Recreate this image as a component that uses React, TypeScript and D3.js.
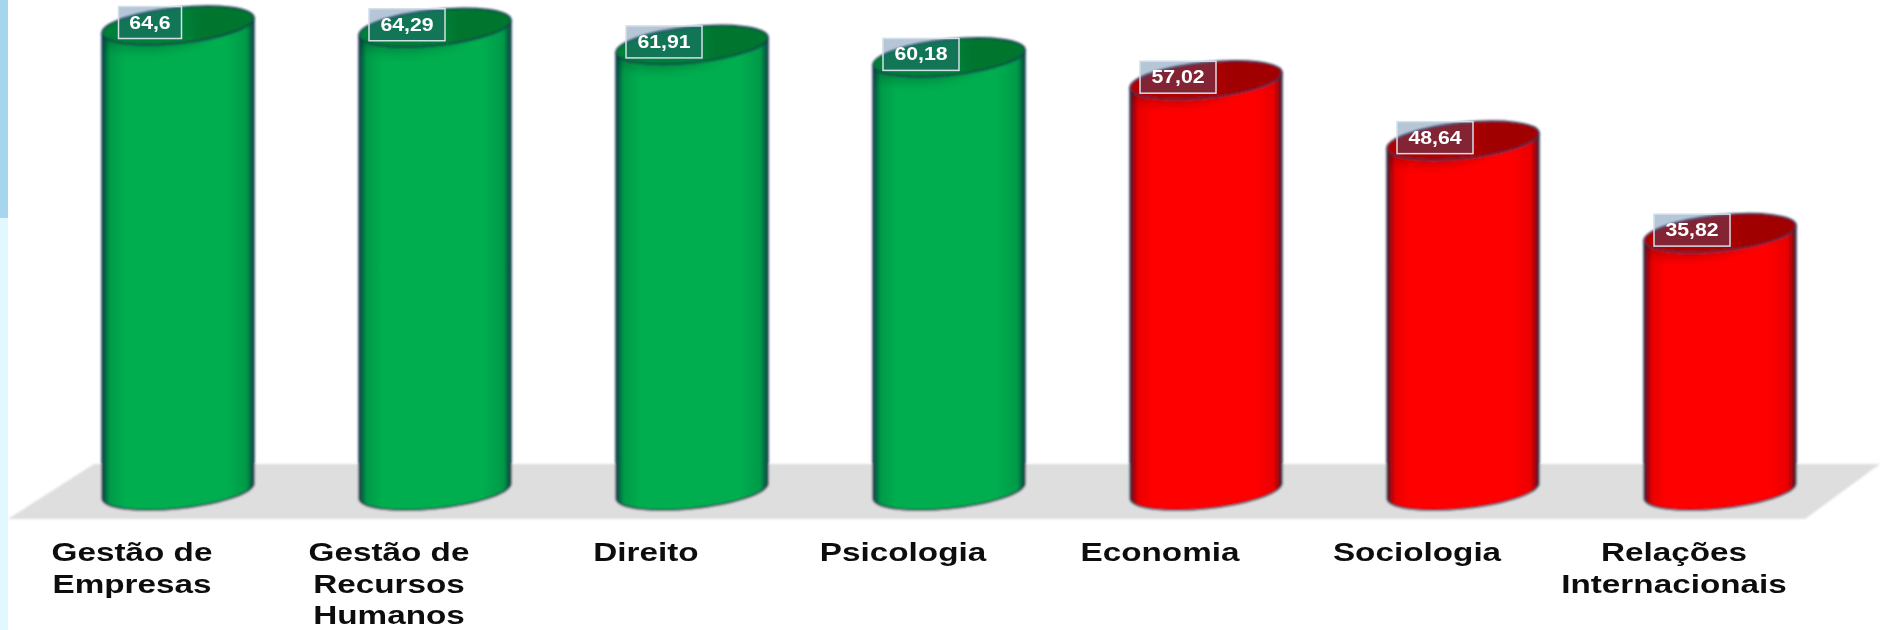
import React from "react";
import * as d3 from "d3";

const categories = ["Gestão de Empresas", "Gestão de Recursos Humanos", "Direito", "Psicologia", "Economia", "Sociologia", "Relações Internacionais"];
const labelLines = [["Gestão de", "Empresas"], ["Gestão de", "Recursos", "Humanos"], ["Direito"], ["Psicologia"], ["Economia"], ["Sociologia"], ["Relações", "Internacionais"]];
const values = [64.6, 64.29, 61.91, 60.18, 57.02, 48.64, 35.82];
const valueLabels = ["64,6", "64,29", "61,91", "60,18", "57,02", "48,64", "35,82"];
const groups = ["g", "g", "g", "g", "r", "r", "r"];

const W = 1880, H = 630;
const x = d3.scaleBand<string>().domain(categories).range([49.5, 1848.5]).paddingInner(0.409).paddingOuter(0.2045);
const y = d3.scaleLinear().domain([0, 64.6]).range([491.5, 25.5]);

const A = 76.4, B = 17.9, ROT = -5.96, DY = 7.5;
const pal: Record<string, { edge: string; mid: string; main: string; top: string; top2: string }> = {
  g: { edge: "#0a4440", mid: "#009a48", main: "#00ad4f", top: "#007f38", top2: "#00752f" },
  r: { edge: "#50101c", mid: "#e80000", main: "#ff0000", top: "#b00000", top2: "#a00000" },
};

export default function App() {
  const bw = x.bandwidth();
  return (
    <svg width={W} height={H} style={{ position: "absolute", left: 0, top: 0, background: "#fff" }}>
      <defs>
        <filter id="soft" x="-5%" y="-5%" width="110%" height="110%"><feGaussianBlur stdDeviation="0.9" /></filter>
        <filter id="softT" x="-5%" y="-20%" width="110%" height="140%"><feGaussianBlur stdDeviation="0.6" /></filter>
        <filter id="shade" x="-20%" y="-50%" width="140%" height="200%"><feGaussianBlur stdDeviation="5" /></filter>
        {Object.entries(pal).map(([k, p]) => (
          <React.Fragment key={k}>
            <linearGradient id={`body-${k}`} x1="0" x2="1" y1="0" y2="0">
              <stop offset="0" stopColor={p.edge} />
              <stop offset="0.05" stopColor={p.mid} />
              <stop offset="0.15" stopColor={p.main} />
              <stop offset="0.82" stopColor={p.main} />
              <stop offset="0.95" stopColor={p.mid} />
              <stop offset="1" stopColor={p.edge} />
            </linearGradient>
            <linearGradient id={`top-${k}`} x1="0" x2="1" y1="0" y2="0">
              <stop offset="0" stopColor={p.top} />
              <stop offset="0.55" stopColor={p.top} />
              <stop offset="0.65" stopColor={p.top2} />
              <stop offset="1" stopColor={p.top2} />
            </linearGradient>
          </React.Fragment>
        ))}
      </defs>
      <rect x={0} y={0} width={8} height={218} fill="#a6d6ee" />
      <rect x={0} y={218} width={8} height={H - 218} fill="#e2f8fe" />
      <g filter="url(#soft)">
        <path d={`M8,519 L94,464 L1880,464 L1805,519 Z`} fill="#dedede" />
        {categories.map((c, i) => {
          const cx = (x(c) as number) + bw / 2;
          const g = groups[i];
          const cyTop = y(values[i]);
          const cyBase = y(0);
          const lx = cx - bw / 2, rx = cx + bw / 2;
          const body = `M${lx},${cyTop + DY} L${lx},${cyBase + DY} A${A},${B} ${ROT} 0 0 ${rx},${cyBase - DY} L${rx},${cyTop - DY} A${A},${B} ${ROT} 0 1 ${lx},${cyTop + DY} Z`;
          return (
            <g key={c}>
              <clipPath id={`clip-${i}`}><path d={body} /></clipPath>
              <path d={body} fill={`url(#body-${g})`} />
              <g clipPath={`url(#clip-${i})`}>
                <ellipse cx={cx - 22} cy={cyTop + 5} rx={A * 0.75} ry={B} transform={`rotate(${ROT} ${cx} ${cyTop})`} fill="#000" opacity={0.16} filter="url(#shade)" />
              </g>
              <path d={body} fill="none" stroke="#14304f" strokeWidth={1.5} />
              <ellipse cx={cx} cy={cyTop} rx={A} ry={B} transform={`rotate(${ROT} ${cx} ${cyTop})`} fill={`url(#top-${g})`} stroke="#14304f" strokeWidth={1.5} />
            </g>
          );
        })}
      </g>
      <g filter="url(#softT)">
        {categories.map((c, i) => {
          const cx = (x(c) as number) + bw / 2;
          const cyTop = y(values[i]);
          const w = valueLabels[i].length === 4 ? 63 : 76;
          return (
            <g key={c}>
              <rect x={cx - 28 - w / 2} y={cyTop - 19} width={w} height={32} fill="rgb(50,100,140)" fillOpacity={0.36} stroke="#d3e0e8" strokeWidth={1.5} />
              <text x={0} y={0} transform={`translate(${cx - 28},${cyTop + 3}) scale(1.15,1)`} textAnchor="middle" fontFamily="Liberation Sans" fontWeight="bold" fontSize={18.5} fill="#fff">{valueLabels[i]}</text>
            </g>
          );
        })}
        {categories.map((c, i) => {
          const cx = (x(c) as number) + bw / 2 - 46;
          return labelLines[i].map((line, j) => (
            <text key={line} transform={`translate(${cx},${561 + j * 31.5}) scale(1.28,1)`} textAnchor="middle" fontFamily="Liberation Sans" fontWeight="bold" fontSize={26} fill="#111">{line}</text>
          ));
        })}
      </g>
    </svg>
  );
}
